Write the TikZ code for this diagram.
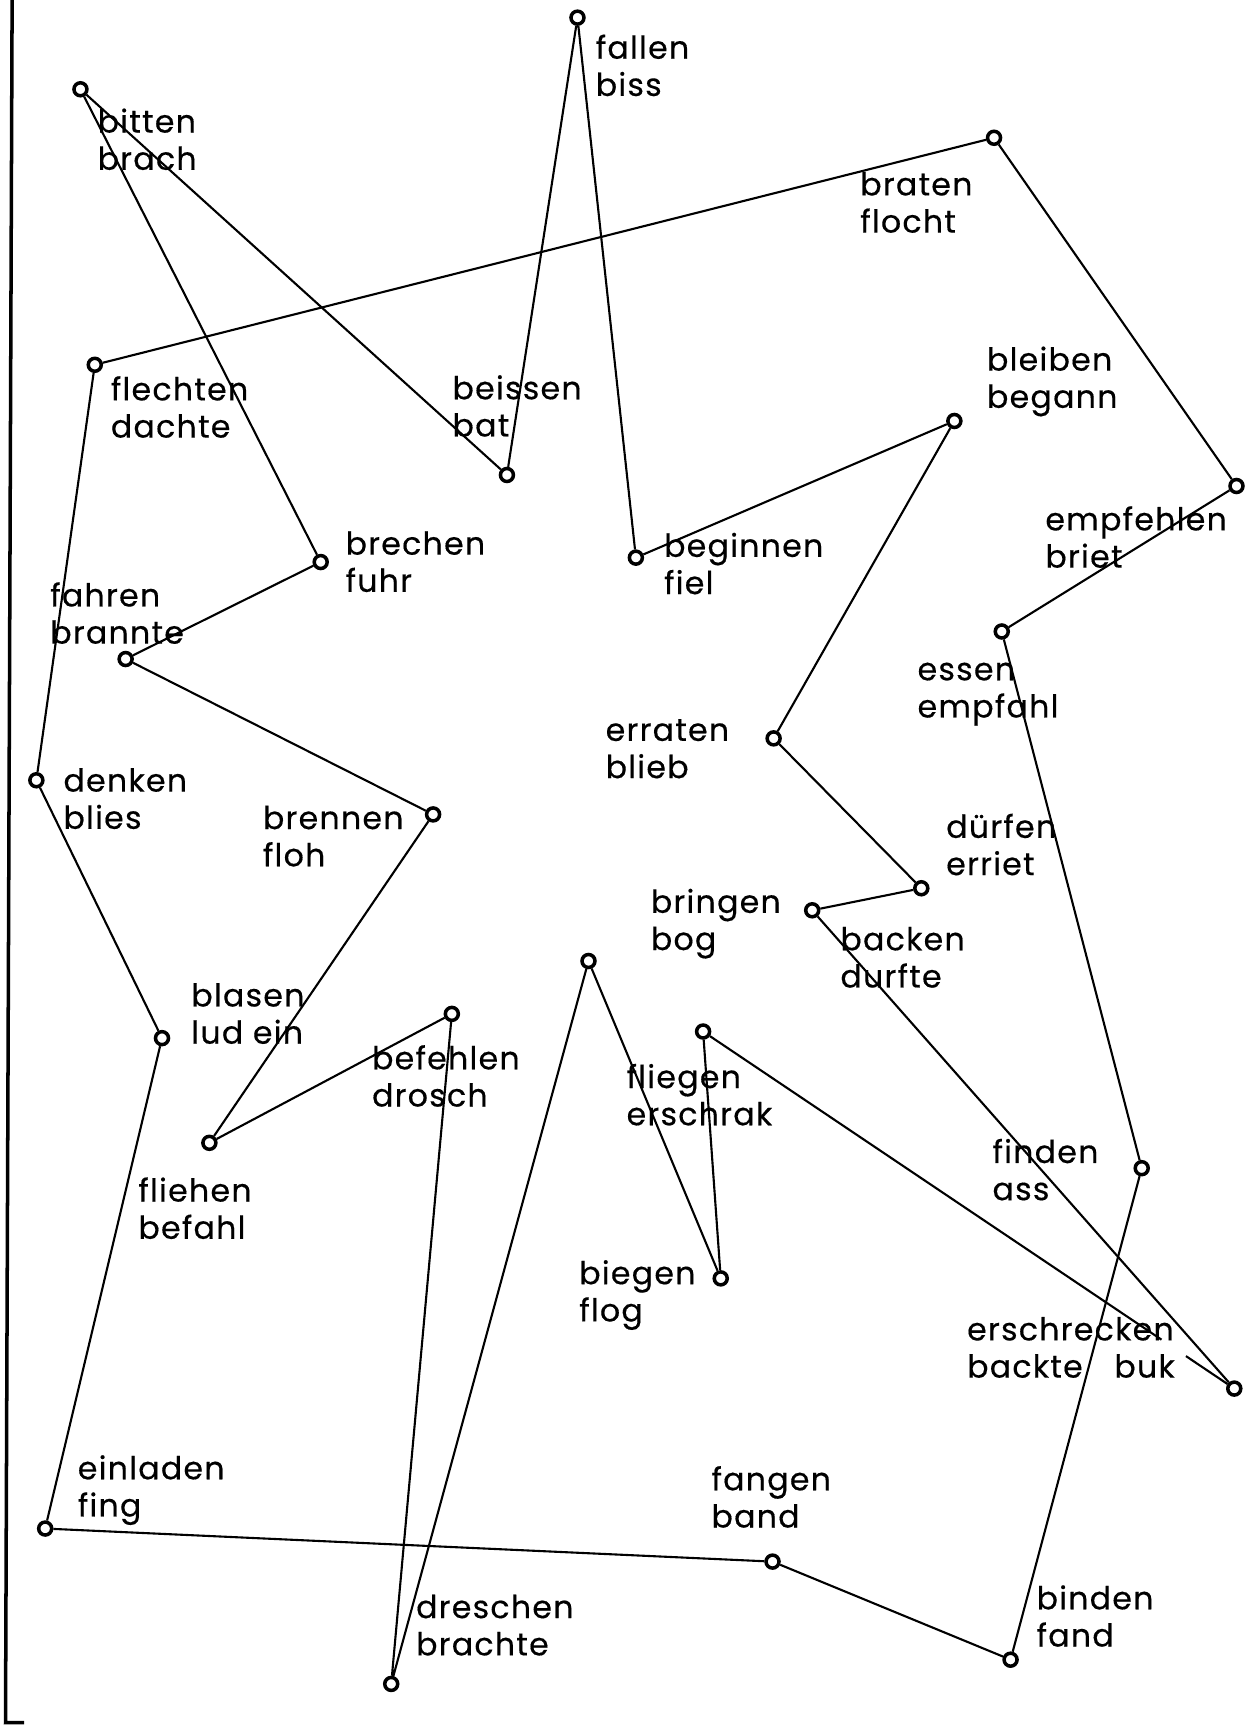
\documentclass[tikz,border=0pt]{standalone}
\usepackage{fontspec}
\setmainfont{Poppins}[LetterSpace=4,FakeBold=0.4]
\usetikzlibrary{calc}

\begin{document}
\begin{tikzpicture}[x=0.011025cm,y=-0.011025cm,
  punkt/.style={circle,draw,line width=1pt,inner sep=0pt,minimum size=0.13cm},
  wort/.style={anchor=north west,inner sep=0pt,align=left,font=\fontsize{9}{10.6}\selectfont},
  linie/.style={line width=0.6pt}]
  \useasboundingbox (0,0) rectangle (1142,1568);
  % edge of the sheet
  \coordinate (oben) at (11,0);
  \coordinate (unten) at (5,1563);
  \coordinate (fuss) at (22,1563);
  \draw[line width=1pt] (oben) -- (unten) -- (fuss);

  \node[punkt] (bitten) at (73,81) {};
  \node[punkt] (fallen) at (524,16) {};
  \node[punkt] (braten) at (902,125) {};
  \node[punkt] (flechten) at (86,331) {};
  \node[punkt] (beissen) at (460,431) {};
  \node[punkt] (bleiben) at (866,382) {};
  \node[punkt] (empfehlen) at (1122,441) {};
  \node[punkt] (brechen) at (291,510) {};
  \node[punkt] (beginnen) at (577,506) {};
  \node[punkt] (essen) at (909,573) {};
  \node[punkt] (fahren) at (114,598) {};
  \node[punkt] (erraten) at (702,670) {};
  \node[punkt] (denken) at (33,708) {};
  \node[punkt] (brennen) at (393,739) {};
  \node[punkt] (duerfen) at (836,806) {};
  \node[punkt] (backen) at (737,826) {};
  \node[punkt] (blasen) at (147,942) {};
  \node[punkt] (befehlen) at (410,920) {};
  \node[punkt] (bringen) at (534,872) {};
  \node[punkt] (fliegen) at (638,936) {};
  \node[punkt] (fliehen) at (190,1037) {};
  \node[punkt] (biegen) at (654,1160) {};
  \node[punkt] (finden) at (1036,1060) {};
  \node[punkt] (erschrecken) at (1120,1260) {};
  \node[punkt] (einladen) at (41,1387) {};
  \node[punkt] (fangen) at (701,1417) {};
  \node[punkt] (binden) at (917,1506) {};
  \node[punkt] (dreschen) at (355,1528) {};

  \node[wort] (bitten-t) at (88,96) {\strut bitten\\brach};
  \node[wort] (fallen-t) at (540,29) {\strut fallen\\biss};
  \node[wort] (braten-t) at (780,153) {\strut braten\\flocht};
  \node[wort] (flechten-t) at (100,339) {\strut flechten\\dachte};
  \node[wort] (beissen-t) at (410,338) {\strut beissen\\bat};
  \node[wort] (bleiben-t) at (895,312) {\strut bleiben\\begann};
  \node[wort] (empfehlen-t) at (948,457) {\strut empfehlen\\briet};
  \node[wort] (brechen-t) at (313,479) {\strut brechen\\fuhr};
  \node[wort] (beginnen-t) at (602,481) {\strut beginnen\\fiel};
  \node[wort] (essen-t) at (832,593) {\strut essen\\empfahl};
  \node[wort] (fahren-t) at (45,526) {\strut fahren\\brannte};
  \node[wort] (erraten-t) at (549,648) {\strut erraten\\blieb};
  \node[wort] (denken-t) at (57,694) {\strut denken\\blies};
  \node[wort] (brennen-t) at (238,728) {\strut brennen\\floh};
  \node[wort] (duerfen-t) at (858,736) {\strut dürfen\\erriet};
  \node[wort] (bringen-t) at (590,804) {\strut bringen\\bog};
  \node[wort] (backen-t) at (762,838) {\strut backen\\durfte};
  \node[wort] (blasen-t) at (173,889) {\strut blasen\\lud ein};
  \node[wort] (befehlen-t) at (337,946) {\strut befehlen\\drosch};
  \node[wort] (fliegen-t) at (568,963) {\strut fliegen\\erschrak};
  \node[wort] (fliehen-t) at (125,1066) {\strut fliehen\\befahl};
  \node[wort] (biegen-t) at (525,1141) {\strut biegen\\flog};
  \node[wort] (finden-t) at (900,1031) {\strut finden\\ass};
  \node[wort] (erschrecken-t) at (877,1192) {\strut erschrecken\\backte\hspace{1em}buk};
  \node[wort] (einladen-t) at (70,1318) {\strut einladen\\fing};
  \node[wort] (fangen-t) at (645,1328) {\strut fangen\\band};
  \node[wort] (binden-t) at (940,1436) {\strut binden\\fand};
  \node[wort] (dreschen-t) at (377,1444) {\strut dreschen\\brachte};

  % first round
  \draw[linie] (bitten) -- (beissen) -- (fallen) -- (beginnen) -- (bleiben)
    -- (erraten) -- (duerfen) -- (backen) -- (erschrecken);
  \draw[linie] (fliegen) -- ($(fliegen)!.863!(erschrecken)$);
  \draw[linie] ($(fliegen)!.909!(erschrecken)$) -- (erschrecken);
  \draw[linie] (fliegen) -- (biegen) -- (bringen) -- (dreschen) -- (befehlen)
    -- (fliehen) -- (brennen) -- (fahren) -- (brechen) -- (bitten);
  % second round
  \draw[linie] (flechten) -- (braten) -- (empfehlen) -- (essen) -- (finden)
    -- (binden) -- (fangen) -- (einladen) -- (blasen) -- (denken) -- (flechten);
\end{tikzpicture}
\end{document}
